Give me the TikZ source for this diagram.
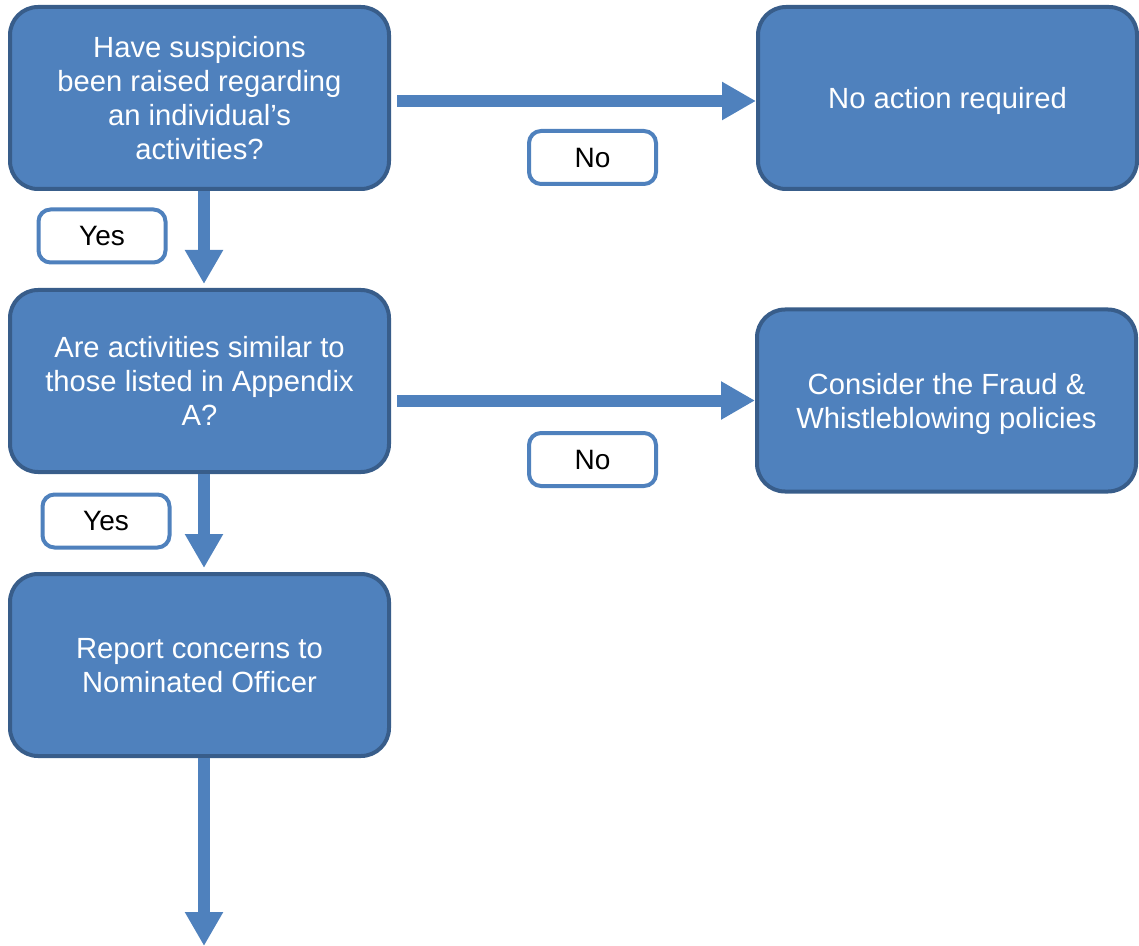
\documentclass[tikz,border=0pt]{standalone}
\usepackage{fontspec}
\setmainfont{Liberation Sans}
\usepackage{tikz}
\usetikzlibrary{positioning}
\usetikzlibrary{arrows.meta}
\definecolor{boxblue}{RGB}{79,129,189}
\definecolor{edgeblue}{RGB}{56,93,138}

\begin{document}
\begin{tikzpicture}[x=0.5pt,y=-0.5pt]
	\useasboundingbox (0,0) rectangle (1139,946);

	\begin{scope}[every node/.style={fill=boxblue,draw=edgeblue,line width=2pt,rounded corners=14pt,
	              text=white,align=center,minimum width=189.5pt,minimum height=91pt,text depth=-1.5pt,
	              font=\fontsize{14.6}{17}\selectfont}]
	    \node (Q1) at (199.5,98) {Have suspicions\\been raised regarding\\an individual’s\\activities?};
	    \node (None) at (947.5,98) {No action required};
	    \node (Q2) at (199.5,381) {Are activities similar to\\those listed in Appendix\\A?};
	    \node (Fraud) at (946.5,400.5) {Consider the Fraud \&\\Whistleblowing policies};
	    \node (Report) at (199.5,665) {Report concerns to\\Nominated Officer};
	\end{scope}
	\coordinate (End) at (204,946);

	\begin{scope}[>={Triangle[width=18pt,length=17pt]},
	              every edge/.style={draw=boxblue,line width=6pt}]
    	\path [->] ([xshift=3pt,yshift=-1.5pt]Q1.east) edge ([yshift=-1.5pt]None.west);
    	\path [->] ([xshift=2.25pt]Q1.south) edge ([xshift=2.25pt,yshift=2pt]Q2.north);
    	\path [->] ([xshift=3pt]Q2.east |- Fraud.west) edge (Fraud.west);
    	\path [->] ([xshift=2.25pt]Q2.south) edge ([xshift=2.25pt,yshift=2pt]Report.north);
    	\path [->] (Report.south -| End) edge (End);
	\end{scope}

	\begin{scope}[every node/.style={fill=white,draw=boxblue,line width=2pt,rounded corners=6pt,
	              minimum width=63.5pt,minimum height=26.5pt,text depth=-3pt,font=\fontsize{14}{16}\selectfont}]
	    \node (No1) at (592.5,157.5) {No};
	    \node (Yes1) at (102,236) {Yes};
	    \node (No2) at (592.5,459.5) {No};
	    \node (Yes2) at (106,521) {Yes};
	\end{scope}
\end{tikzpicture}
\end{document}
